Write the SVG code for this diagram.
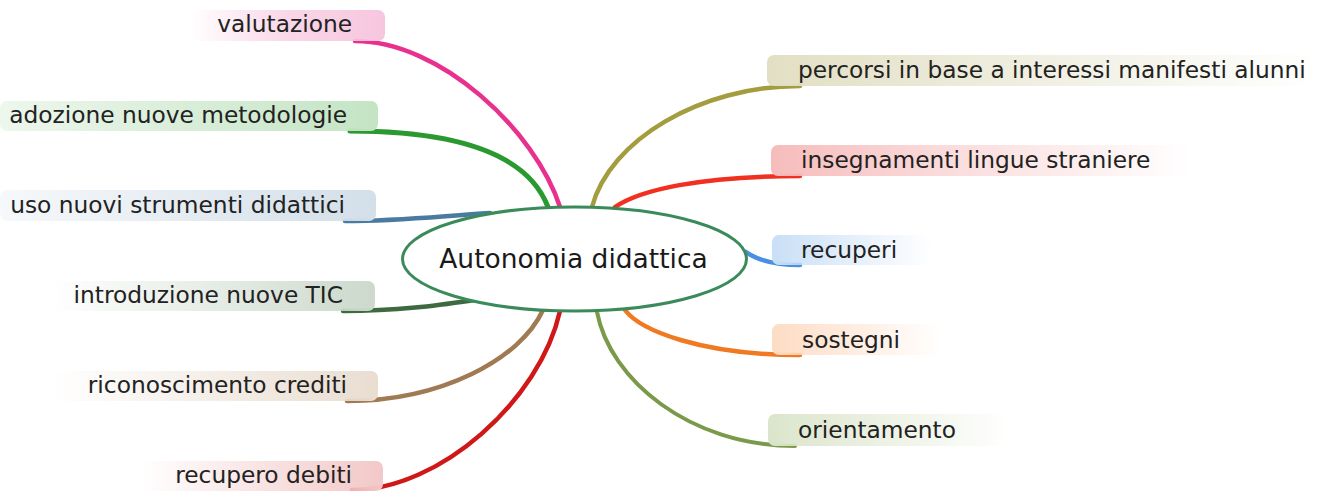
<svg xmlns="http://www.w3.org/2000/svg" width="1324" height="491" viewBox="0 0 1324 491">
<defs>
<style>
.lbl{font-family:"DejaVu Sans","Verdana",sans-serif;font-size:23.3px;fill:#222222}
.ctr{font-family:"DejaVu Sans","Verdana",sans-serif;font-size:26.5px;fill:#1a1a1a}
.con{fill:none;stroke-linecap:round}
</style>
<linearGradient id="gPink" x1="0" x2="1"><stop offset="0" stop-color="#f7c6de" stop-opacity="0"/><stop offset="0.5" stop-color="#f7c6de" stop-opacity="0.7"/><stop offset="1" stop-color="#f7c6de"/></linearGradient>
<linearGradient id="gGreen" x1="0" x2="1"><stop offset="0" stop-color="#c4e4c4" stop-opacity="0.3"/><stop offset="1" stop-color="#c4e4c4"/></linearGradient>
<linearGradient id="gBlueGray" x1="0" x2="1"><stop offset="0" stop-color="#d3dfe9" stop-opacity="0.2"/><stop offset="1" stop-color="#d3dfe9"/></linearGradient>
<linearGradient id="gDkGreen" x1="0" x2="1"><stop offset="0" stop-color="#ccd9cc" stop-opacity="0"/><stop offset="1" stop-color="#ccd9cc"/></linearGradient>
<linearGradient id="gBrown" x1="0" x2="1"><stop offset="0" stop-color="#e9ddd0" stop-opacity="0"/><stop offset="1" stop-color="#e9ddd0"/></linearGradient>
<linearGradient id="gRose" x1="0" x2="1"><stop offset="0" stop-color="#f3c8c8" stop-opacity="0"/><stop offset="1" stop-color="#f3c8c8"/></linearGradient>
<linearGradient id="gOlive" x1="0" x2="1"><stop offset="0" stop-color="#e2dfc4"/><stop offset="0.4" stop-color="#e2dfc4" stop-opacity="0.6"/><stop offset="1" stop-color="#e2dfc4" stop-opacity="0"/></linearGradient>
<linearGradient id="gRed" x1="0" x2="1"><stop offset="0" stop-color="#f6bcbc"/><stop offset="0.4" stop-color="#f6bcbc" stop-opacity="0.55"/><stop offset="1" stop-color="#f6bcbc" stop-opacity="0"/></linearGradient>
<linearGradient id="gBlue" x1="0" x2="1"><stop offset="0" stop-color="#c9dff6"/><stop offset="1" stop-color="#c9dff6" stop-opacity="0"/></linearGradient>
<linearGradient id="gOrange" x1="0" x2="1"><stop offset="0" stop-color="#fddcc4"/><stop offset="1" stop-color="#fddcc4" stop-opacity="0"/></linearGradient>
<linearGradient id="gLtGreen" x1="0" x2="1"><stop offset="0" stop-color="#dbe5cb"/><stop offset="1" stop-color="#dbe5cb" stop-opacity="0"/></linearGradient>
</defs>
<rect width="1324" height="491" fill="#ffffff"/>
<g id="connectors">
<path class="con" d="M355 41 C440 41 535 130 560 207" stroke="#e8318f" stroke-width="4.5"/>
<path class="con" d="M350 131 C470 131 530 160 548 207" stroke="#2a9a30" stroke-width="5"/>
<path class="con" d="M345 221 C400 221 440 216 490 213" stroke="#4a7aa0" stroke-width="4.5"/>
<path class="con" d="M343 311 C400 311 440 305 475 300" stroke="#3e6a40" stroke-width="4.5"/>
<path class="con" d="M347 401 C440 401 520 360 543 310" stroke="#a07a52" stroke-width="4.5"/>
<path class="con" d="M352 490 C440 490 540 400 560 311" stroke="#d01818" stroke-width="4.5"/>
<path class="con" d="M800 86 C700 86 610 140 592 207" stroke="#a39d40" stroke-width="4.5"/>
<path class="con" d="M800 176 C700 176 640 190 615 207" stroke="#f03020" stroke-width="4.5"/>
<path class="con" d="M800 265 C780 265 760 262 746 252" stroke="#4a90e0" stroke-width="4.5"/>
<path class="con" d="M800 355 C700 355 640 330 625 310" stroke="#f07a22" stroke-width="4.5"/>
<path class="con" d="M795 446 C690 446 610 380 597 312" stroke="#7a9a4a" stroke-width="4"/>
</g>
<g id="center">
<ellipse cx="574.5" cy="259" rx="172" ry="52" fill="#ffffff" stroke="#3a8a5a" stroke-width="3"/>
<text class="ctr" x="573.5" y="268" text-anchor="middle">Autonomia didattica</text>
</g>
<g id="n-valutazione">
<rect x="190" y="10" width="195" height="31" rx="7" fill="url(#gPink)"/>
<text class="lbl" x="352" y="32" text-anchor="end">valutazione</text>
</g>
<g id="n-adozione">
<rect x="0" y="101" width="378" height="30" rx="7" fill="url(#gGreen)"/>
<text class="lbl" x="347" y="123" text-anchor="end">adozione nuove metodologie</text>
</g>
<g id="n-uso">
<rect x="0" y="190" width="376" height="31" rx="7" fill="url(#gBlueGray)"/>
<text class="lbl" x="345" y="213" text-anchor="end">uso nuovi strumenti didattici</text>
</g>
<g id="n-tic">
<rect x="50" y="281" width="325" height="30" rx="7" fill="url(#gDkGreen)"/>
<text class="lbl" x="343" y="303" text-anchor="end">introduzione nuove TIC</text>
</g>
<g id="n-crediti">
<rect x="50" y="371" width="328" height="30" rx="7" fill="url(#gBrown)"/>
<text class="lbl" x="347" y="393" text-anchor="end">riconoscimento crediti</text>
</g>
<g id="n-debiti">
<rect x="140" y="461" width="243" height="30" rx="7" fill="url(#gRose)"/>
<text class="lbl" x="352" y="483" text-anchor="end">recupero debiti</text>
</g>
<g id="n-percorsi">
<rect x="767" y="55" width="557" height="31" rx="7" fill="url(#gOlive)"/>
<text class="lbl" x="798" y="78">percorsi in base a interessi manifesti alunni</text>
</g>
<g id="n-lingue">
<rect x="771" y="145" width="420" height="31" rx="7" fill="url(#gRed)"/>
<text class="lbl" x="801" y="168">insegnamenti lingue straniere</text>
</g>
<g id="n-recuperi">
<rect x="772" y="235" width="160" height="30" rx="7" fill="url(#gBlue)"/>
<text class="lbl" x="801" y="258">recuperi</text>
</g>
<g id="n-sostegni">
<rect x="772" y="324" width="170" height="31" rx="7" fill="url(#gOrange)"/>
<text class="lbl" x="802" y="348">sostegni</text>
</g>
<g id="n-orientamento">
<rect x="768" y="414" width="240" height="32" rx="7" fill="url(#gLtGreen)"/>
<text class="lbl" x="798" y="438">orientamento</text>
</g>
</svg>
